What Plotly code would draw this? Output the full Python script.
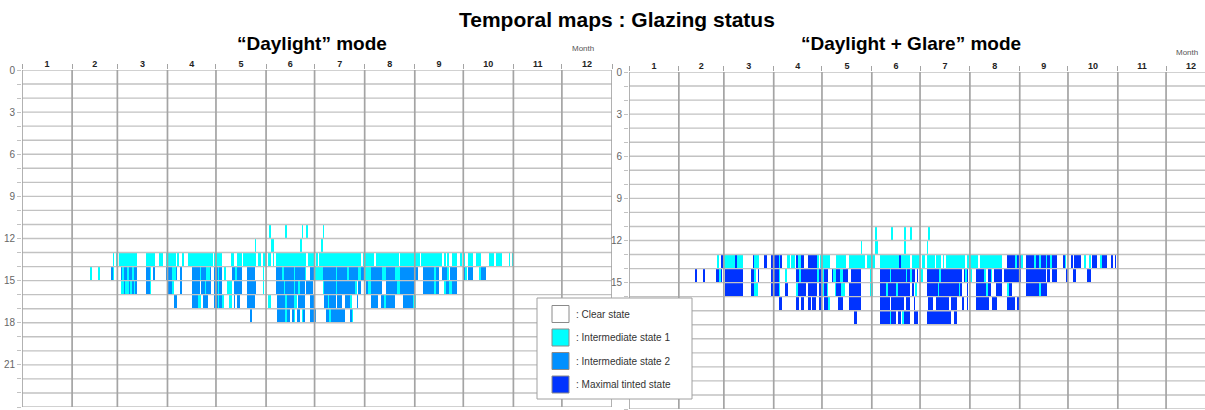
import numpy as np
import plotly.graph_objects as go

# ---------------- data ----------------
MONTH_DAYS = [31, 28, 31, 30, 31, 30, 31, 31, 30, 31, 30, 31]
MONTH_LABELS = ["1", "2", "3", "4", "5", "6", "7", "8", "9", "10", "11", "12"]
HOUR_TICKS = list(range(0, 25))
HOUR_LABELS_LEFT = [str(h) if h % 3 == 0 else "" for h in HOUR_TICKS]
HOUR_LABELS_RIGHT = [str(h) if (h % 3 == 0 and h not in (18, 21)) else "" for h in HOUR_TICKS]
STATE_NAMES = [": Clear state", ": Intermediate state 1", ": Intermediate state 2", ": Maximal tinted state"]
STATE_COLORS = ["#FFFFFF", "#00FFFF", "#0090FF", "#0033FF"]

# runs of [first day, last day (exclusive), state] for each hour row
# "Daylight" mode
dl_h11 = [[153, 154, 1], [163, 164, 1], [173, 174, 1], [176, 177, 1], [186, 187, 1]]
dl_h12 = [[144, 145, 1], [154, 156, 1], [172, 173, 1], [185, 186, 1]]
dl_h13 = [[56, 57, 1], [58, 59, 1], [60, 71, 1], [77, 82, 1], [85, 87, 1], [89, 95, 1], [96, 97, 1],
          [99, 100, 1], [103, 118, 1], [119, 124, 1], [129, 131, 1], [133, 136, 1], [137, 145, 1],
          [146, 148, 1], [149, 151, 1], [152, 154, 1], [155, 156, 1], [157, 176, 1], [177, 181, 1],
          [182, 183, 1], [184, 210, 1], [211, 218, 1], [219, 233, 1], [234, 246, 1], [247, 260, 1],
          [261, 262, 1], [263, 264, 1], [266, 269, 1], [271, 272, 1], [273, 274, 1], [276, 279, 1],
          [281, 284, 1], [289, 292, 1], [293, 297, 1], [301, 302, 1], [303, 304, 1]]
dl_h14 = [[42, 43, 1], [47, 48, 1], [55, 56, 2], [56, 57, 1], [61, 62, 2], [62, 63, 1], [63, 65, 2],
          [65, 66, 1], [66, 68, 2], [68, 69, 1], [69, 71, 2], [77, 79, 2], [79, 80, 1], [81, 82, 2],
          [89, 93, 2], [93, 95, 1], [95, 96, 2], [98, 99, 2], [105, 110, 2], [110, 111, 1],
          [111, 114, 2], [114, 116, 1], [116, 117, 2], [119, 121, 2], [121, 122, 1], [122, 124, 2],
          [125, 126, 1], [130, 132, 2], [132, 133, 1], [133, 136, 2], [139, 144, 2], [149, 150, 1],
          [157, 161, 2], [161, 162, 1], [162, 168, 2], [168, 169, 1], [169, 172, 2], [172, 175, 2],
          [175, 176, 1], [178, 181, 2], [181, 186, 1], [186, 194, 2], [194, 195, 1], [195, 201, 2],
          [201, 202, 1], [202, 208, 2], [208, 210, 1], [210, 212, 2], [212, 216, 1], [216, 223, 2],
          [223, 225, 1], [225, 231, 2], [231, 234, 1], [234, 245, 2], [248, 255, 2], [255, 256, 1],
          [256, 258, 2], [260, 263, 2], [263, 264, 1], [265, 269, 2], [273, 274, 2], [274, 275, 1],
          [276, 279, 2], [283, 284, 1], [284, 287, 2]]
dl_h15 = [[61, 63, 1], [63, 64, 2], [64, 66, 1], [66, 67, 2], [67, 68, 1], [68, 69, 2], [69, 70, 1],
          [70, 71, 2], [77, 79, 2], [79, 80, 1], [90, 93, 2], [93, 94, 1], [98, 99, 2], [105, 110, 2],
          [111, 113, 2], [113, 114, 1], [114, 117, 2], [119, 121, 2], [121, 122, 1], [122, 124, 2],
          [127, 130, 1], [131, 136, 2], [139, 145, 2], [149, 150, 1], [157, 162, 2], [162, 163, 1],
          [163, 168, 2], [168, 169, 1], [169, 171, 2], [171, 172, 1], [172, 175, 2], [176, 180, 2],
          [186, 187, 1], [187, 194, 2], [194, 195, 1], [195, 206, 2], [206, 207, 1], [208, 210, 2],
          [213, 214, 2], [214, 216, 1], [216, 223, 2], [225, 232, 2], [232, 234, 1], [234, 243, 2],
          [248, 255, 2], [255, 256, 1], [256, 258, 2], [261, 262, 1], [262, 264, 2], [264, 266, 1],
          [266, 269, 2]]
dl_h16 = [[94, 96, 2], [105, 109, 2], [109, 111, 1], [112, 115, 2], [119, 121, 2], [121, 122, 1],
          [122, 124, 2], [124, 125, 1], [128, 130, 1], [131, 132, 2], [133, 135, 2], [139, 144, 2],
          [152, 154, 1], [158, 163, 2], [163, 164, 1], [164, 168, 2], [168, 170, 1], [171, 175, 2],
          [178, 181, 2], [187, 189, 2], [189, 190, 1], [190, 194, 2], [195, 198, 2], [200, 203, 2],
          [203, 204, 1], [207, 208, 2], [216, 220, 2], [222, 224, 2], [224, 225, 1], [225, 231, 2],
          [236, 242, 2], [242, 244, 1]]
dl_h17 = [[141, 142, 2], [158, 163, 2], [163, 164, 1], [164, 166, 2], [167, 168, 2], [168, 169, 1],
          [170, 172, 2], [173, 174, 1], [174, 175, 2], [178, 182, 2], [188, 190, 2], [190, 191, 1],
          [191, 195, 2], [195, 200, 2], [203, 204, 2], [204, 205, 1]]

# "Daylight + Glare" mode
dg_h11 = [[153, 154, 1], [163, 164, 1], [171, 172, 1], [175, 176, 1], [186, 187, 1]]
dg_h12 = [[144, 145, 1], [153, 155, 1], [171, 172, 1], [185, 186, 1]]
dg_h13 = [[55, 56, 1], [57, 59, 3], [59, 66, 1], [66, 67, 3], [67, 71, 1], [77, 78, 3], [78, 81, 1],
          [84, 86, 3], [88, 93, 3], [93, 94, 1], [94, 95, 3], [98, 100, 1], [101, 103, 1],
          [104, 105, 3], [105, 107, 1], [107, 109, 3], [111, 117, 3], [117, 118, 1], [119, 125, 1],
          [129, 135, 1], [137, 145, 1], [145, 147, 1], [148, 151, 1], [151, 153, 1], [156, 168, 1],
          [168, 169, 3], [169, 172, 1], [172, 175, 1], [176, 178, 1], [178, 181, 1], [182, 184, 1],
          [185, 190, 1], [191, 194, 1], [195, 196, 1], [197, 209, 1], [210, 217, 1], [218, 232, 1],
          [235, 240, 3], [240, 241, 1], [241, 244, 3], [244, 245, 1], [247, 252, 3], [252, 253, 1],
          [253, 255, 3], [255, 256, 1], [256, 259, 3], [259, 260, 1], [260, 262, 3], [262, 263, 1],
          [263, 266, 3], [270, 271, 3], [271, 272, 1], [275, 276, 3], [277, 281, 3], [283, 284, 1],
          [286, 287, 1], [288, 291, 3], [293, 294, 1], [294, 297, 3], [300, 301, 3], [302, 303, 3]]
dg_h14 = [[41, 42, 3], [46, 47, 3], [54, 56, 3], [56, 57, 1], [57, 58, 3], [60, 71, 3], [76, 78, 3],
          [78, 79, 1], [80, 81, 3], [88, 93, 3], [93, 94, 1], [97, 98, 1], [104, 106, 3],
          [106, 107, 1], [107, 111, 3], [111, 117, 3], [117, 118, 1], [118, 120, 3], [120, 121, 1],
          [121, 124, 3], [126, 127, 3], [127, 129, 1], [129, 131, 3], [131, 133, 1], [133, 136, 3],
          [138, 144, 3], [150, 151, 1], [156, 162, 3], [162, 163, 1], [163, 172, 3], [172, 173, 1],
          [173, 175, 3], [175, 176, 1], [176, 178, 3], [179, 180, 3], [181, 183, 1], [185, 193, 3],
          [193, 194, 1], [194, 207, 3], [208, 209, 3], [209, 210, 1], [210, 211, 3], [212, 213, 1],
          [216, 221, 3], [221, 222, 1], [223, 225, 3], [225, 226, 1], [227, 232, 3], [233, 244, 3],
          [247, 259, 3], [260, 262, 3], [263, 266, 3], [272, 273, 3], [276, 278, 3], [285, 287, 3]]
dg_h15 = [[60, 71, 3], [76, 78, 3], [78, 80, 1], [88, 93, 3], [93, 94, 1], [97, 99, 3], [104, 105, 1],
          [105, 110, 3], [111, 117, 3], [118, 120, 3], [120, 121, 1], [121, 123, 3], [123, 124, 1],
          [128, 129, 1], [129, 132, 3], [132, 134, 1], [137, 144, 3], [150, 152, 1], [156, 160, 3],
          [160, 161, 1], [161, 166, 3], [166, 167, 1], [167, 175, 3], [176, 177, 3], [178, 179, 1],
          [185, 192, 3], [192, 193, 1], [193, 205, 3], [205, 206, 1], [206, 207, 3], [210, 211, 3],
          [216, 222, 3], [222, 223, 1], [223, 225, 3], [228, 232, 3], [235, 236, 1], [236, 238, 3],
          [247, 255, 3], [255, 256, 1], [256, 260, 3]]
dg_h16 = [[93, 95, 3], [104, 106, 3], [107, 109, 3], [111, 113, 3], [114, 116, 3], [118, 120, 3],
          [121, 124, 3], [124, 125, 1], [130, 133, 3], [137, 144, 3], [156, 162, 3], [163, 169, 3],
          [169, 171, 3], [172, 175, 3], [177, 178, 3], [186, 189, 3], [191, 194, 3], [194, 199, 3],
          [200, 204, 3], [207, 208, 3], [210, 211, 3], [216, 224, 3], [226, 229, 3], [235, 240, 3],
          [241, 243, 3]]
dg_h17 = [[140, 142, 3], [156, 162, 3], [162, 163, 1], [163, 166, 3], [167, 169, 3], [170, 171, 1],
          [171, 173, 3], [173, 175, 3], [177, 180, 3], [185, 190, 3], [190, 194, 3], [194, 200, 3],
          [202, 204, 3]]

DAYLIGHT_ROWS = {11: dl_h11, 12: dl_h12, 13: dl_h13, 14: dl_h14, 15: dl_h15, 16: dl_h16, 17: dl_h17}
GLARE_ROWS = {11: dg_h11, 12: dg_h12, 13: dg_h13, 14: dg_h14, 15: dg_h15, 16: dg_h16, 17: dg_h17}

# ---------------- build ----------------
N_DAYS = sum(MONTH_DAYS)
bounds = np.concatenate([[0], np.cumsum(MONTH_DAYS)])
mids = (bounds[:-1] + bounds[1:]) / 2.0
days = np.arange(N_DAYS) + 0.5
hours = np.arange(24) + 0.5


def build_z(rows):
    z = np.full((24, N_DAYS), np.nan)
    for h, runs in rows.items():
        for s, e, st in runs:
            z[h, s:e] = st if st > 0 else np.nan
    return z


cs = [[0, STATE_COLORS[0]], [1 / 6, STATE_COLORS[0]],
      [1 / 6, STATE_COLORS[1]], [0.5, STATE_COLORS[1]],
      [0.5, STATE_COLORS[2]], [5 / 6, STATE_COLORS[2]],
      [5 / 6, STATE_COLORS[3]], [1, STATE_COLORS[3]]]

W, H = 1205, 410


def px(x):
    return x / W


def py(y):
    return 1 - y / H


fig = go.Figure()
HGRID = "#c2c2c2"
VGRID = "#a4a4a4"

for idx, rows in enumerate([DAYLIGHT_ROWS, GLARE_ROWS]):
    xa = "x" if idx == 0 else "x2"
    ya = "y" if idx == 0 else "y2"
    fig.add_trace(go.Heatmap(z=build_z(rows), x=days, y=hours, colorscale=cs, zmin=0, zmax=3,
                             showscale=False, hoverinfo="skip", xaxis=xa, yaxis=ya))
    hx, hy = [], []
    for h in HOUR_TICKS:
        hx += [0, N_DAYS, None]
        hy += [h, h, None]
    fig.add_trace(go.Scatter(x=hx, y=hy, mode="lines", line=dict(color=HGRID, width=1.4),
                             hoverinfo="skip", showlegend=False, xaxis=xa, yaxis=ya))
    vx, vy = [], []
    for b in bounds:
        vx += [b, b, None]
        vy += [0, 24, None]
    fig.add_trace(go.Scatter(x=vx, y=vy, mode="lines", line=dict(color=VGRID, width=1.7),
                             hoverinfo="skip", showlegend=False, xaxis=xa, yaxis=ya))

xcommon = dict(side="top", tickmode="array", tickvals=list(mids), ticktext=MONTH_LABELS,
               ticks="", showgrid=False, zeroline=False, showline=False,
               tickfont=dict(family="Liberation Sans", size=9, color="#222", weight="bold"),
               minor=dict(tickmode="array", tickvals=list(bounds), ticks="outside", ticklen=5,
                          tickcolor=VGRID, tickwidth=1.4, showgrid=False),
               automargin=False, fixedrange=True)
ycommon = dict(range=[24, 0], tickmode="array", tickvals=HOUR_TICKS,
               ticks="outside", ticklen=4, tickcolor=HGRID, tickwidth=1.2, showgrid=False,
               zeroline=False, showline=False,
               tickfont=dict(family="Liberation Sans", size=10, color="#666"),
               automargin=False, fixedrange=True)

fig.update_layout(
    width=W, height=H, margin=dict(l=0, r=0, t=0, b=0),
    paper_bgcolor="white", plot_bgcolor="white", showlegend=False,
    xaxis=dict(xcommon, domain=[px(22), px(612)], range=[0, N_DAYS], anchor="y"),
    yaxis=dict(ycommon, ticktext=HOUR_LABELS_LEFT, domain=[py(407), py(70)], anchor="x"),
    xaxis2=dict(xcommon, domain=[px(629), 1.0], range=[0, (1205 - 629) / 1.608], anchor="y2"),
    yaxis2=dict(ycommon, ticktext=HOUR_LABELS_RIGHT, domain=[py(409), py(72)], anchor="x2"),
)

ann = []
ann.append(dict(text="<b>Temporal maps : Glazing status</b>", x=px(617), y=py(19), xref="paper", yref="paper",
                showarrow=False, xanchor="center", yanchor="middle",
                font=dict(family="Liberation Sans", size=21, color="#000")))
ann.append(dict(text="<b>“Daylight” mode</b>", x=px(312), y=py(44), xref="paper", yref="paper",
                showarrow=False, xanchor="center", yanchor="middle",
                font=dict(family="Liberation Sans", size=19, color="#000")))
ann.append(dict(text="<b>“Daylight + Glare” mode</b>", x=px(911), y=py(44), xref="paper", yref="paper",
                showarrow=False, xanchor="center", yanchor="middle",
                font=dict(family="Liberation Sans", size=19, color="#000")))
for mx, my in [(583, 48), (1187, 52)]:
    ann.append(dict(text="Month", x=px(mx), y=py(my), xref="paper", yref="paper", showarrow=False,
                    xanchor="center", yanchor="middle",
                    font=dict(family="Liberation Sans", size=8, color="#555")))

shapes = [dict(type="rect", xref="paper", yref="paper", x0=px(537), x1=px(692), y0=py(399), y1=py(298),
               fillcolor="white", line=dict(color="#a0a0a0", width=1), layer="above")]
for i, (name, col) in enumerate(zip(STATE_NAMES, STATE_COLORS)):
    cy = 314 + i * 23.5
    shapes.append(dict(type="rect", xref="paper", yref="paper", x0=px(552), x1=px(569),
                       y0=py(cy + 8.5), y1=py(cy - 8.5), fillcolor=col,
                       line=dict(color="#8a8a8a", width=1), layer="above"))
    ann.append(dict(text=name, x=px(574), y=py(cy), xref="paper", yref="paper", showarrow=False,
                    xanchor="left", yanchor="middle",
                    font=dict(family="Liberation Sans", size=10, color="#333")))

fig.update_layout(annotations=ann, shapes=shapes)
fig.write_html("out.html", config={"displayModeBar": False},
               post_script="document.body.style.margin='0px';document.body.style.overflow='hidden';")
